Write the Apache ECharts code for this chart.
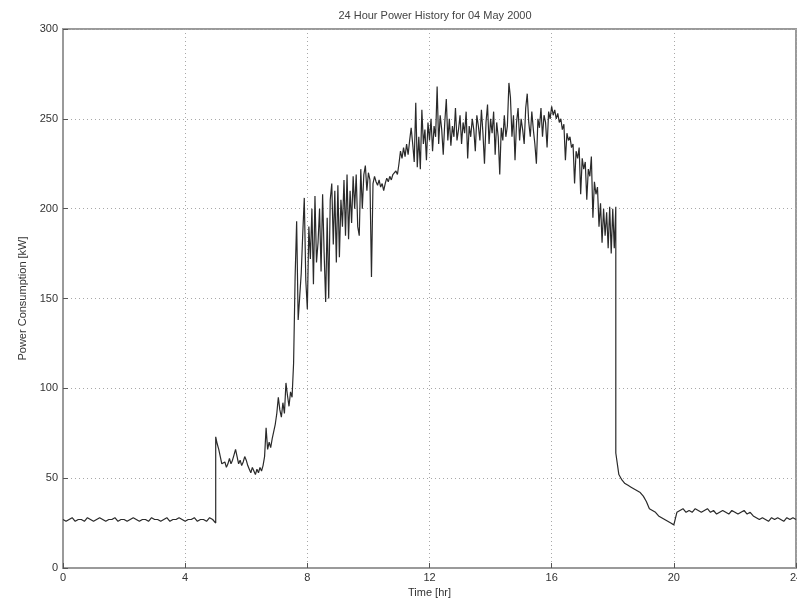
<!DOCTYPE html>
<html>
<head>
<meta charset="utf-8">
<script src="https://cdn.jsdelivr.net/npm/echarts@6/dist/echarts.min.js"></script>
<style>html,body{margin:0;padding:0;background:#fff}#c{width:797px;height:603px}</style>
</head>
<body>
<div id="c"></div>
<script>
// Sampling segments (hours): start, step
const nightStart = 0.0, nightStep = 0.1;
const nightPower = [27,26,27,28,26,27,27,26,28,27, 26,27,28,27,26,27,27,28,26,27,
  27,26,27,28,27,26,27,27,26,28, 27,27,26,27,28,26,27,27,28,27,
  26,27,27,28,26,27,27,26,28,27, 25];

const dayStart = 5.0, dayStep = 0.05;
const dayPower = [
  73,69,66,62,58,57,59,56,58,61, 58,60,63,66,62,58,60,57,59,62,        // 5
  60,57,55,53,56,54,52,55,53,56, 54,57,62,78,66,70,67,72,71,80,        // 6
  86,95,88,84,92,86,103,96,90,98, 95,114,162,193,138,151,164,186,206,160, // 7
  144,190,172,200,158,207,170,181,200,165, 208,175,148,195,150,205,214,180,210,170, // 8
  213,173,205,190,216,185,219,183,210,192, 218,200,219,190,185,222,200,219,224,210, // 9
  220,216,162,214,218,215,213,216,212,214, 210,214,217,215,218,216,219,218,221,219, // 10
  225,232,228,234,229,236,230,238,245,236, 226,259,223,240,222,255,236,244,227,248, // 11
  238,250,232,246,240,268,236,252,244,230, 248,261,238,250,235,246,240,256,238,244, // 12
  252,236,248,242,254,228,246,240,250,244, 232,252,246,238,255,242,225,248,258,236, // 13
  250,242,254,230,248,240,219,245,238,252, 240,246,270,262,240,252,227,248,256,238, // 14
  250,244,236,256,264,248,240,254,244,236, 225,250,245,256,240,252,248,234,254,250, // 15
  257,252,255,250,253,248,250,244,247,227, 242,238,240,234,236,214,232,228,234,208, // 16
  228,222,226,205,222,218,229,195,215,208, 212,190,203,181,200,185,198,178,201,175, // 17
  200,178,201                                                           // 18.0-18.1
];

const eveStart = 18.1, eveStep = 0.1;
const evePower = [64,52,49,47,46,45,44,43,42,40, 37,33,32,31,29,28,27,26,25,24,
  31,32,33,31,32,31,33,32,31,32, 33,31,32,30,31,32,31,30,32,31,
  30,31,32,30,31,29,28,27,28,27, 26,28,27,28,27,26,28,27,28,27];

const xTicks = [0,4,8,12,16,20,24];
const yTicks = [0,50,100,150,200,250,300];

function seg(start, step, vals) {
  return vals.map((v, i) => [+(start + i * step).toFixed(3), v]);
}
const series = [].concat(
  seg(nightStart, nightStep, nightPower),
  seg(dayStart, dayStep, dayPower),
  seg(eveStart, eveStep, evePower)
);

const chart = echarts.init(document.getElementById('c'), null, {renderer: 'canvas'});
const txt = '#333';
chart.setOption({
  animation: false,
  backgroundColor: '#fff',
  title: {
    text: '24 Hour Power History for 04 May 2000',
    left: 430, top: 5, textAlign: 'center',
    textStyle: {fontFamily: 'Liberation Sans, Arial, sans-serif', fontSize: 11, fontWeight: 'normal', color: '#444'}
  },
  grid: {left: 63, right: 1, top: 29, bottom: 35, show: true, borderColor: '#9a9a9a', borderWidth: 2,
    containLabel: false, outerBoundsMode: 'none'},
  xAxis: {
    type: 'value', min: 0, max: 24, interval: 4,
    name: 'Time [hr]', nameLocation: 'middle', nameGap: 15,
    nameTextStyle: {fontFamily: 'Liberation Sans, Arial, sans-serif', fontSize: 11, color: txt},
    axisLine: {show: true, onZero: false, lineStyle: {color: '#9a9a9a', width: 2}},
    axisTick: {show: true, inside: true, length: 5, lineStyle: {color: '#555'}},
    axisLabel: {margin: 4, fontFamily: 'Liberation Sans, Arial, sans-serif', fontSize: 11, color: txt,
      formatter: v => xTicks.includes(v) ? String(v) : ''},
    splitLine: {show: true, lineStyle: {color: '#a8a8a8', type: [1, 3], width: 1}}
  },
  yAxis: {
    type: 'value', min: 0, max: 300, interval: 50,
    name: 'Power Consumption [kW]', nameLocation: 'middle', nameGap: 35,
    nameTextStyle: {fontFamily: 'Liberation Sans, Arial, sans-serif', fontSize: 11, color: txt},
    axisLine: {show: true, onZero: false, lineStyle: {color: '#9a9a9a', width: 2}},
    axisTick: {show: true, inside: true, length: 5, lineStyle: {color: '#555'}},
    axisLabel: {margin: 5, fontFamily: 'Liberation Sans, Arial, sans-serif', fontSize: 11, color: txt,
      formatter: v => yTicks.includes(v) ? String(v) : ''},
    splitLine: {show: true, lineStyle: {color: '#a8a8a8', type: [1, 3], width: 1}}
  },
  series: [{
    type: 'line', data: series, showSymbol: false, symbol: 'none',
    lineStyle: {color: '#2a2a2a', width: 1.2}
  }]
});
</script>
</body>
</html>
